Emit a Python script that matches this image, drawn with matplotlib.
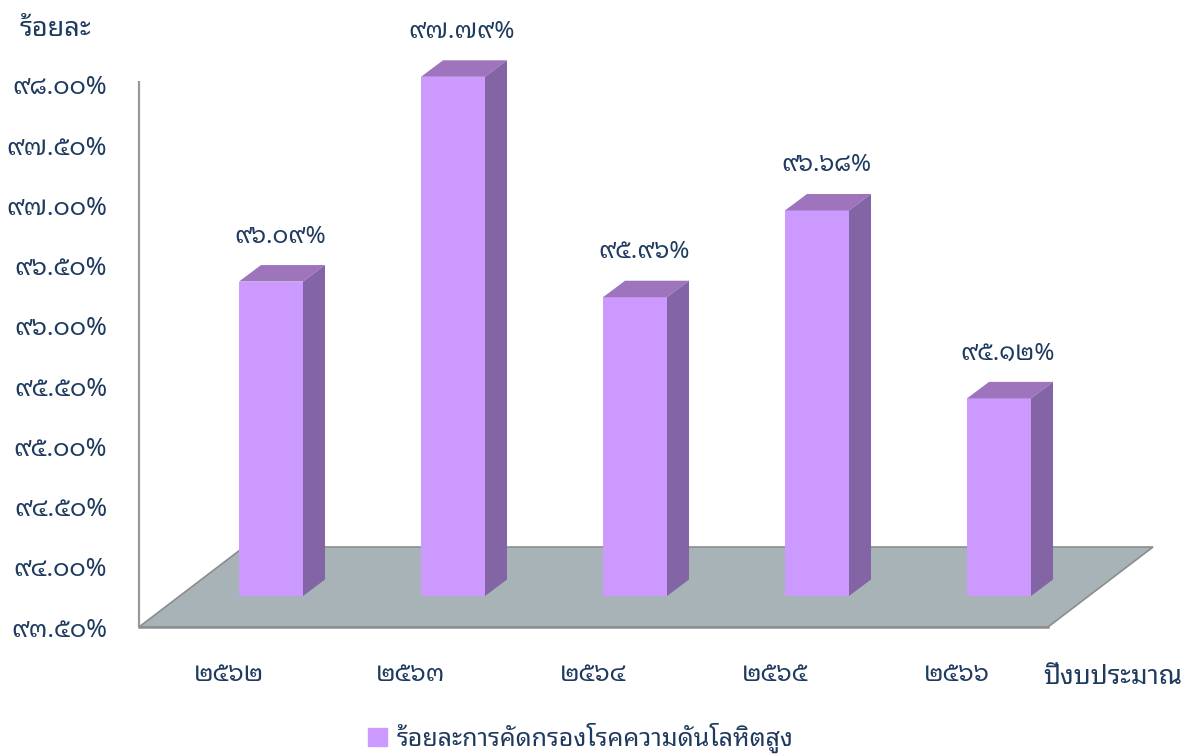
import matplotlib
matplotlib.use("Agg")
import matplotlib.pyplot as plt
from matplotlib.patches import Polygon, Patch

# INPUT
years = ["๒๕๖๒", "๒๕๖๓", "๒๕๖๔", "๒๕๖๕", "๒๕๖๖"]
values = [96.09, 97.79, 95.96, 96.68, 95.12]
value_labels = ["๙๖.๐๙%", "๙๗.๗๙%", "๙๕.๙๖%", "๙๖.๖๘%", "๙๕.๑๒%"]
tick_values = [93.5, 94.0, 94.5, 95.0, 95.5, 96.0, 96.5, 97.0, 97.5, 98.0]
tick_labels = ["๙๓.๕๐%", "๙๔.๐๐%", "๙๔.๕๐%", "๙๕.๐๐%", "๙๕.๕๐%",
               "๙๖.๐๐%", "๙๖.๕๐%", "๙๗.๐๐%", "๙๗.๕๐%", "๙๘.๐๐%"]
series_name = "ร้อยละการคัดกรองโรคความดันโลหิตสูง"
y_title = "ร้อยละ"
x_title = "ปีงบประมาณ"
# END INPUT

plt.rcParams['font.family'] = ['Noto Sans Thai Looped', 'Noto Sans Thai', 'DejaVu Sans']

W, H = 1192, 755
ink = '#1f3a5f'
front = '#cc99ff'
top = '#9e75bd'
side = '#8364a4'
floor = '#a7b3b7'
edge = '#8c8c8c'

fig = plt.figure(figsize=(W/100, H/100), dpi=100)
# axes box: left wall to front floor corner, 93.5 to 98 on the wall
ax = fig.add_axes([139/W, 1-627/H, (1048-139)/W, (627-85)/H])
ax.patch.set_visible(False)
ax.set_xlim(-0.7253, 4.2692)
ax.set_ylim(93.5, 98)
for s in ax.spines.values():
    s.set_visible(False)

# depth of the fake 3d, in data units
px_x = 1/182.0
px_y = 4.5/542.0
bar_w = 64*px_x
floor_dx, floor_dy = 105*px_x, 80*px_y
bar_dx, bar_dy = 22*px_x, 16.5*px_y
base = 93.5 + 31*px_y
lift = 33.5*px_y

xl, xr = ax.get_xlim()
ax.add_patch(Polygon([(xl, 93.5), (xr, 93.5), (xr+floor_dx, 93.5+floor_dy), (xl+floor_dx, 93.5+floor_dy)],
                     closed=True, fc=floor, ec=edge, lw=1.2, zorder=1, clip_on=False))
ax.plot([xl, xl], [93.5, 98.03], color='#999999', lw=1.6, zorder=2, clip_on=False, solid_capstyle='butt')
ax.plot([xl, xr], [93.5, 93.5], color='#8f8f8f', lw=1.8, zorder=2, clip_on=False)

xs = list(range(len(values)))
tops = [v + lift for v in values]
ax.bar(xs, [t-base for t in tops], bottom=base, width=bar_w, color=front, zorder=3, clip_on=False)
for x, t in zip(xs, tops):
    x0, x1 = x-bar_w/2, x+bar_w/2
    ax.add_patch(Polygon([(x0, t), (x1, t), (x1+bar_dx, t+bar_dy), (x0+bar_dx, t+bar_dy)],
                         closed=True, fc=top, ec='none', zorder=3, clip_on=False))
    ax.add_patch(Polygon([(x1, base), (x1+bar_dx, base+bar_dy), (x1+bar_dx, t+bar_dy), (x1, t)],
                         closed=True, fc=side, ec='none', zorder=3, clip_on=False))

for x, t, lab in zip(xs, tops, value_labels):
    ax.annotate(lab, (x, t), xytext=(9, 45), textcoords='offset pixels', ha='center', va='center',
                fontsize=17.5, color=ink, annotation_clip=False)

ax.set_yticks(tick_values, tick_labels)
ax.set_xticks([x - 42*px_x for x in xs], years)
ax.tick_params(axis='y', length=0, pad=23, labelsize=18, labelcolor=ink)
ax.tick_params(axis='x', length=0, pad=25, labelsize=18, labelcolor=ink)

fig.text(20/W, 1-29/H, y_title, fontsize=19.5, color=ink, ha='left', va='center')
fig.text(1043/W, 1-677/H, x_title, fontsize=19, color=ink, ha='left', va='center')

fig.legend(handles=[Patch(color=front, label=series_name)], loc='center left',
           bbox_to_anchor=(368/W, 1-738/H), frameon=False, fontsize=18, labelcolor=ink,
           handlelength=0.75, handleheight=0.75, handletextpad=0.4, borderpad=0, borderaxespad=0)

fig.savefig("out.png", dpi=100)
